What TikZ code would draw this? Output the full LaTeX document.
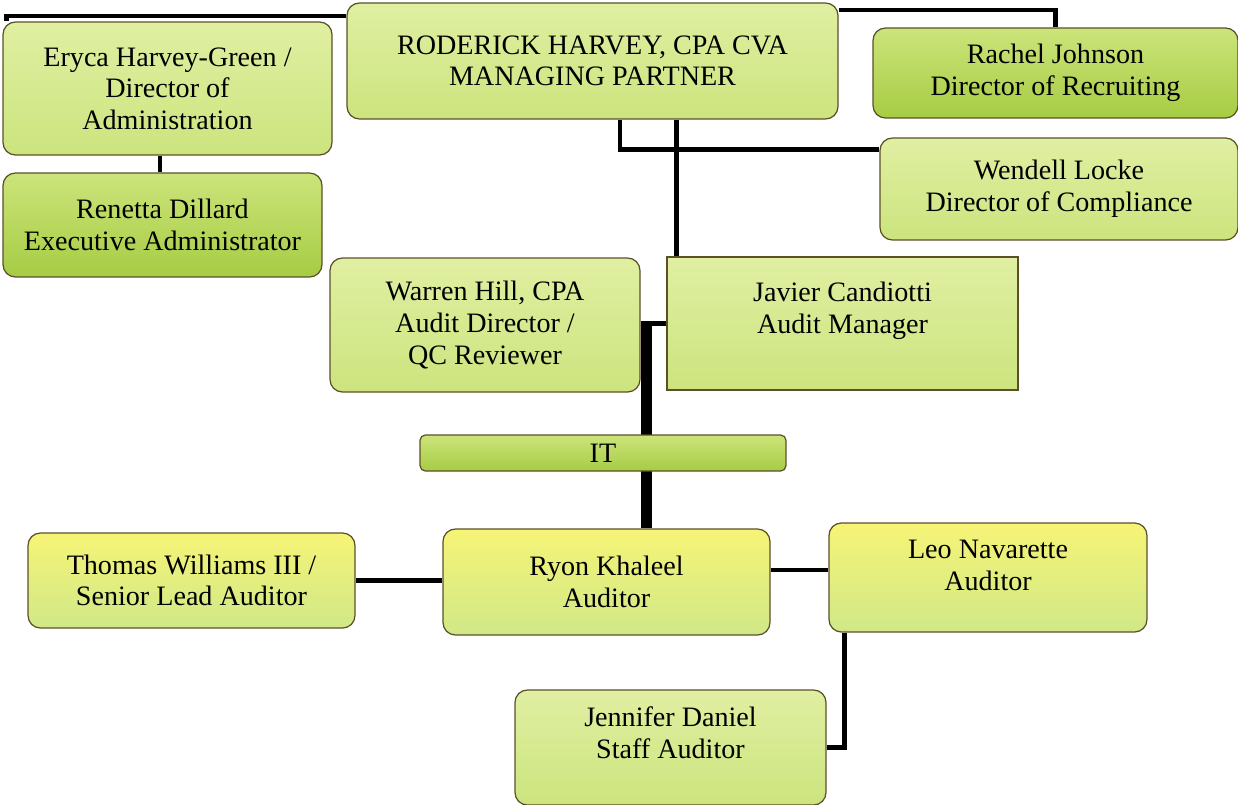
\documentclass[tikz,border=0pt]{standalone}
\usepackage{fontspec}
\setmainfont{Liberation Serif}
\usetikzlibrary{positioning, calc, backgrounds}

\definecolor{paleTop}{RGB}{224,239,162}
\definecolor{paleBot}{RGB}{204,228,126}
\definecolor{deepTop}{RGB}{204,228,122}
\definecolor{deepBot}{RGB}{166,204,68}
\definecolor{sunTop}{RGB}{246,244,118}
\definecolor{sunBot}{RGB}{208,232,136}
\definecolor{edge}{RGB}{92,80,40}

\begin{document}
\begin{tikzpicture}[x=0.02cm, y=-0.02cm,
    box/.style={draw=edge, line width=0.7pt, rounded corners=7pt, inner sep=0pt, align=center,
      font=\fontsize{16}{18}\selectfont, top color=paleTop, bottom color=paleBot},
    deepbox/.style={box, top color=deepTop, bottom color=deepBot},
    sunbox/.style={box, top color=sunTop, bottom color=sunBot},
    conn/.style={draw=black, line width=2.8pt},
    spineconn/.style={draw=black, line width=6.5pt}]
      \useasboundingbox (0, 0) rectangle (1238, 805);

      % Managing partner
      \node[box, minimum width=9.82cm, minimum height=2.32cm] (roderick) at (592.5, 61) {RODERICK HARVEY, CPA CVA\\MANAGING PARTNER};

      % Administration
      \node[box, minimum width=6.58cm, minimum height=2.66cm] (eryca) at (167.5, 88.5) {Eryca Harvey-Green /\\Director of\\Administration};
      \node[deepbox, minimum width=6.38cm, minimum height=2.08cm] (renetta) at (162.5, 225) {Renetta Dillard\\Executive Administrator};

      % Directors on the right
      \node[deepbox, minimum width=7.3cm, minimum height=1.8cm] (rachel) at (1055.5, 73) {Rachel Johnson\\Director of Recruiting};
      \node[box, minimum width=7.16cm, minimum height=2.04cm] (wendell) at (1059, 189) {Wendell Locke\\Director of Compliance};

      % Audit leadership
      \node[box, minimum width=6.2cm, minimum height=2.68cm] (warren) at (485, 325) {Warren Hill, CPA\\Audit Director /\\QC Reviewer};
      \node[box, sharp corners, minimum width=7.02cm, minimum height=2.66cm] (javier) at (842.5, 323.5) {Javier Candiotti\\Audit Manager\\\mbox{}};

      % IT bar
      \node[deepbox, rounded corners=3pt, minimum width=7.32cm, minimum height=0.72cm] (it) at (603, 453) {IT};

      % Auditors
      \node[sunbox, minimum width=6.54cm, minimum height=1.9cm] (thomas) at (191.5, 580.5) {Thomas Williams III /\\Senior Lead Auditor};
      \node[sunbox, minimum width=6.54cm, minimum height=2.12cm] (ryon) at (606.5, 582) {Ryon Khaleel\\Auditor};
      \node[sunbox, text depth=14pt, minimum width=6.36cm, minimum height=2.18cm] (leo) at (988, 577.5) {Leo Navarette\\Auditor};
      \node[box, text depth=17pt, minimum width=6.22cm, minimum height=2.3cm] (jennifer) at (670.5, 747.5) {Jennifer Daniel\\Staff Auditor};

      \coordinate (spine) at ([xshift=0.8cm]ryon.north);

      % Connectors
      \begin{scope}[on background layer]
        \draw[conn] (roderick.west |- 0, 16) -| ([xshift=0.08cm]eryca.north west);
        \draw[conn] (roderick.east |- 0, 10) -| (rachel.north);
        \draw[conn] (eryca.south -| 160, 0) -- (renetta.north -| 160, 0);
        \draw[conn] (roderick.south -| 620, 0) |- ([yshift=-0.24cm]wendell.north west);
        \draw[conn] ([xshift=0.21cm]javier.north west) -- ([xshift=0.21cm]javier.north west |- roderick.south);
        \draw[conn] (javier.west) -- (javier.west -| spine);
        \draw[spineconn] ([yshift=0.05cm]javier.west -| spine) -- (spine);
        \draw[conn] (thomas.east) -- (thomas.east -| ryon.west);
        \draw[conn] ([yshift=0.24cm]ryon.east) -- ([yshift=0.24cm]ryon.east -| leo.west);
        \draw[conn] ([xshift=0.32cm]leo.south west) |- (jennifer.east);
      \end{scope}
    \end{tikzpicture}
\end{document}
